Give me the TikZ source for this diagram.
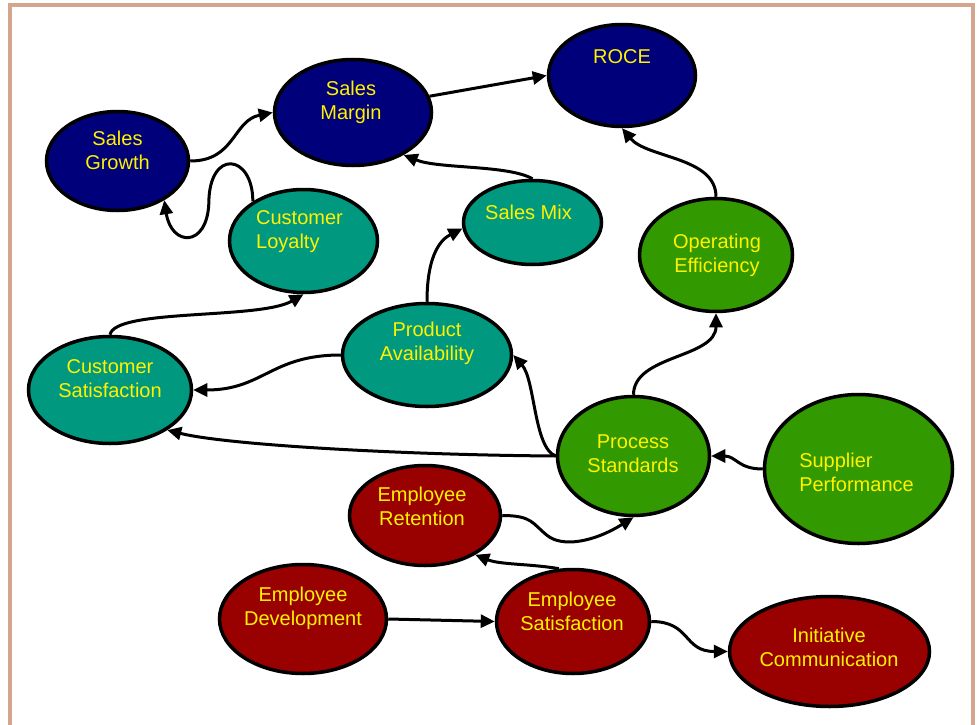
\documentclass[tikz,border=0pt]{standalone}
\usepackage{fontspec}
\setmainfont{Liberation Sans}
\usetikzlibrary{arrows.meta,shapes.geometric}

\definecolor{bsnavy}{RGB}{0,0,122}
\definecolor{bsteal}{RGB}{0,153,128}
\definecolor{bsgreen}{RGB}{51,153,0}
\definecolor{bsred}{RGB}{153,0,0}
\definecolor{bsframe}{RGB}{212,166,142}

\begin{document}
\begin{tikzpicture}[x=1pt,y=-1pt]
    \tikzset{bubble/.style= {draw, ellipse
    , line width=3.5pt
    , inner sep=0pt
      }
    , goal/.style={bubble, fill=bsnavy}
    , client/.style={bubble, fill=bsteal}
    , intern/.style={bubble, fill=bsgreen}
    , people/.style={bubble, fill=bsred}
    , txt/.style={text=yellow, inner sep=0pt, align=center
    , font=\fontsize{20}{24}\selectfont}
    , link/.style={draw, line width=3pt, -{Triangle[length=14pt,width=13pt]}}
    }

\useasboundingbox (0,0) rectangle (977,725);
\draw[bsframe, line width=4pt] (10,725) -- (10,5) -- (972.5,5) -- (972.5,725);

\node [goal, minimum width=142pt, minimum height=99pt] (growth) at (117.5,161) {};
\node [goal, minimum width=157pt, minimum height=106pt] (margin) at (353,112.5) {};
\node [goal, minimum width=147pt, minimum height=102pt] (roce) at (622,75.5) {};
\node [client, minimum width=148pt, minimum height=103pt] (loyal) at (303.5,241) {};
\node [client, minimum width=138pt, minimum height=84pt] (mix) at (532.5,222.5) {};
\node [intern, minimum width=153pt, minimum height=113pt] (ops) at (716,255) {};
\node [client, minimum width=163pt, minimum height=107pt] (sat) at (110,390) {};
\node [client, minimum width=169pt, minimum height=103pt] (avail) at (427,355) {};
\node [intern, minimum width=152pt, minimum height=119pt] (proc) at (633.5,456) {};
\node [intern, minimum width=188pt, minimum height=149pt] (supp) at (858.5,469) {};
\node [people, minimum width=151pt, minimum height=100pt] (retain) at (425,515.5) {};
\node [people, minimum width=167pt, minimum height=109pt] (develop) at (303,619) {};
\node [people, minimum width=153pt, minimum height=104pt] (esat) at (573,621.5) {};
\node [people, minimum width=200pt, minimum height=110pt] (initv) at (829.5,651.5) {};

\node [txt] (growthtext) at (117.5,150.5) {Sales\\Growth};
\node [txt] (margintext) at (351,102) {Sales\\Margin};
\node [txt] (rocetext) at (622,56.5) {ROCE};
\node [txt, align=left] (loyaltext) at (299.5,232) {Customer\\Loyalty};
\node [txt] (mixtext) at (528.5,212.5) {Sales Mix};
\node [txt] (opstext) at (717,255.5) {Operating\\Efficiency};
\node [txt] (sattext) at (110,379) {Customer\\Satisfaction};
\node [txt] (availtext) at (427,343) {Product\\Availability};
\node [txt] (proctext) at (633,454) {Process\\Standards};
\node [txt, align=left] (supptext) at (856.5,472.5) {Supplier\\Performance};
\node [txt] (retaintext) at (422,506) {Employee\\Retention};
\node [txt] (developtext) at (303,608) {Employee\\Development};
\node [txt] (esattext) at (572,611) {Employee\\Satisfaction};
\node [txt] (initvtext) at (829,647) {Initiative\\Communication};

\draw[link] (growth.east) .. controls +(45,0) and +(-40,8) .. (margin.west);
\draw[link] (margin.12) -- (roce.west);
\draw[link] (ops.north) .. controls +(0,-40) and +(25,30) .. (roce.south);
\draw[link] (proc.north) .. controls +(0,-40) and +(0,45) .. (ops.south);
\draw[link] (proc.west) .. controls +(-22,-8) and +(22,25) .. (avail.east);
\draw[link] (proc.west) .. controls +(-150,-1) and +(60,15) .. (sat.-35);
\draw[link] (avail.west) .. controls +(-70,0) and +(70,0) .. (sat.east);
\draw[link] (sat.north) .. controls +(5,-26.5) and +(-43.5,25.5) .. (loyal.south);
\draw[link] (avail.north) .. controls +(0,-50) and +(-20,10) .. (mix.185);
\draw[link] (mix.north) .. controls +(-25,-14) and +(35,14) .. (margin.-40);
\draw[link] (supp.west) .. controls +(-25,0) and +(25,0) .. (proc.east);
\draw[link] (retain.east) .. controls +(30,0) and +(-15,-12) .. ([shift={(45,20)}]retain.east)
  .. controls +(15,12) and +(-40,25) .. (proc.south);
\draw[link] (esat.105) .. controls +(-30,-5) and +(25,10) .. (retain.-38);
\draw[link] (develop.east) -- (esat.west);
\draw[link] (esat.east) .. controls +(40,0) and +(-45,0) .. (initv.west);
\draw[link] (loyal.142) .. controls +(0,-48) and +(0,-55) .. ([shift={(-44,2)}]loyal.142)
  .. controls +(-2,45) and +(7,46) .. (growth.-40);
\end{tikzpicture}
\end{document}
